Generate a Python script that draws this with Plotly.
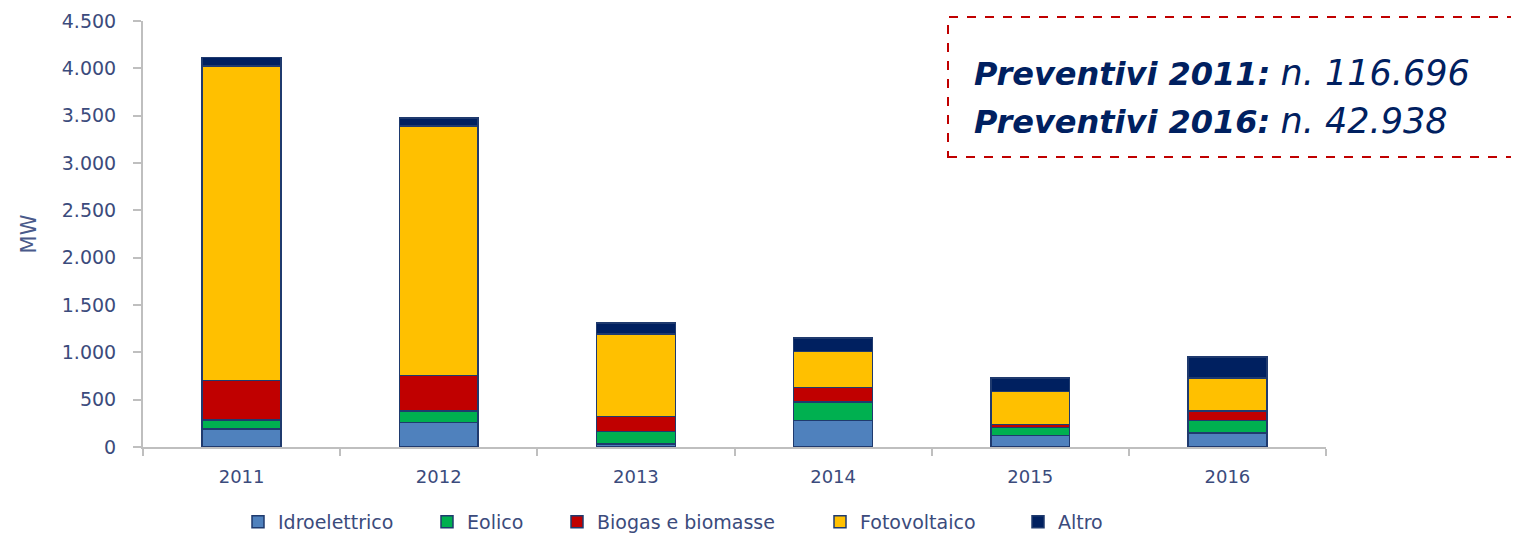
import plotly.graph_objects as go

years = ["2011", "2012", "2013", "2014", "2015", "2016"]
idroelettrico = [190, 260, 30, 282, 120, 150]
eolico = [95, 120, 132, 196, 84, 131]
biogas = [415, 373, 159, 152, 32, 100]
fotovoltaico = [3325, 2637, 875, 381, 352, 350]
altro = [90, 88, 115, 143, 141, 222]

series_names = ["Idroelettrico", "Eolico", "Biogas e biomasse", "Fotovoltaico", "Altro"]
series_values = [idroelettrico, eolico, biogas, fotovoltaico, altro]
series_colors = ["#4F81BD", "#00B050", "#C00000", "#FFC000", "#002060"]

FONT = "DejaVu Sans"
TXT = "#3B4B7C"

# page has an 8px body margin; figure coordinates = page - 8
OFF = 8
W, H = 1519 - OFF, 534 - OFF
L, R, T, B = 143 - OFF, 1326 - OFF, 21 - OFF, 447 - OFF


def px(xpage):
    return (xpage - OFF - L) / (R - L)


def py(ypage):
    return (B - (ypage - OFF)) / (B - T)


# legend square centres in the reference (page pixels)
legend_square_x = [257, 446, 576, 839, 1037]

fig = go.Figure()
legend_layouts = {}
for i, (name, vals, col) in enumerate(zip(series_names, series_values, series_colors)):
    lname = "legend" if i == 0 else f"legend{i + 1}"
    fig.add_trace(go.Bar(
        x=years, y=vals, name=name, legend=lname,
        marker=dict(color=col, line=dict(color="#1F3A6E", width=1.5)),
    ))
    legend_layouts[lname] = dict(
        orientation="h",
        xref="container", x=(legend_square_x[i] - 19 - OFF) / W, xanchor="left",
        yref="container", y=1 - (522 - OFF) / H, yanchor="middle",
        font=dict(size=19, color=TXT, family=FONT),
        itemclick=False, bgcolor="rgba(0,0,0,0)",
    )

fig.update_layout(
    width=W, height=H,
    barmode="stack", bargap=0.6,
    separators=",.",
    plot_bgcolor="white", paper_bgcolor="white",
    margin=dict(l=L, r=W - R, t=T, b=H - B, pad=0, autoexpand=False),
    font=dict(family=FONT, color=TXT, size=18),
    showlegend=True,
    xaxis=dict(
        showline=True, linecolor="#BFBFBF", linewidth=2,
        ticks="outside", ticklen=7, tickcolor="#BFBFBF", tickwidth=1.5,
        tickson="boundaries", showgrid=False,
        tickfont=dict(size=18, color=TXT),
        ticklabelstandoff=12,
    ),
    yaxis=dict(
        range=[0, 4500], dtick=500, tickformat=",d",
        showline=True, linecolor="#BFBFBF", linewidth=2,
        ticks="outside", ticklen=8, tickcolor="#BFBFBF", tickwidth=1.5,
        showgrid=False, zeroline=False,
        tickfont=dict(size=19, color=TXT),
        ticklabelstandoff=13,
        title=dict(text="MW", font=dict(size=21, color="#4A5A8A"), standoff=19),
    ),
    **legend_layouts,
)

# dashed info box (extends past right edge like the reference)
fig.add_shape(
    type="rect", xref="paper", yref="paper",
    x0=px(948), x1=px(1540),
    y0=py(157), y1=py(17),
    line=dict(color="#C00000", width=2, dash="dash"),
    fillcolor="rgba(0,0,0,0)",
)
lines = [("Preventivi 2011:", "n. 116.696", 73), ("Preventivi 2016:", "n. 42.938", 121)]
for lab, val, ypix in lines:
    fig.add_annotation(
        xref="paper", yref="paper",
        x=px(972), y=py(ypix),
        xanchor="left", yanchor="middle", showarrow=False,
        text=f"<b><i>{lab}</i></b> <span style='font-size:35px'><i>{val}</i></span>",
        font=dict(size=32, color="#002060", family=FONT),
    )

fig.write_html("out.html")
